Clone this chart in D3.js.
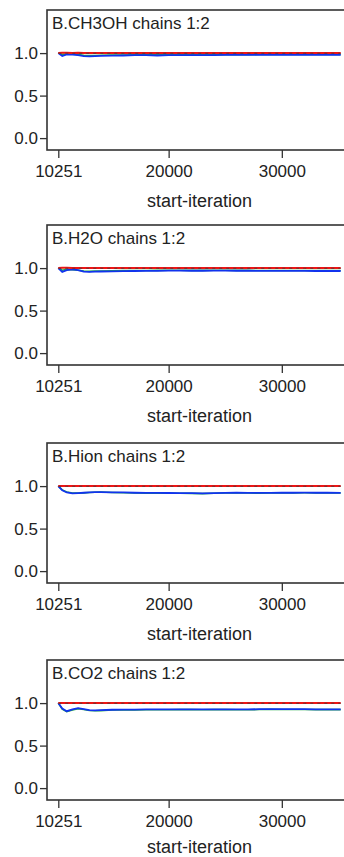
<!DOCTYPE html>
<html>
<head>
<meta charset="utf-8">
<script src="https://cdn.jsdelivr.net/npm/d3@7"></script>
<style>
  body { margin: 0; background: #fff; }
  svg { display: block; }
  text { font-family: "Liberation Sans", Arial, sans-serif; fill: #222; }
</style>
</head>
<body>
<svg id="chart" width="344" height="857"></svg>
<script>
// start iterations (shared by all panels)
var iters = [10251, 10600, 11000, 11500, 12000, 12500, 13000, 13500, 14000, 15000,
             16000, 17000, 18000, 19000, 20000, 21000, 22000, 23000, 24000, 25000,
             26000, 27000, 28000, 29000, 30000, 31000, 32000, 33000, 34000, 35200];

var titles = ["B.CH3OH chains 1:2", "B.H2O chains 1:2", "B.Hion chains 1:2", "B.CO2 chains 1:2"];
var xTicks = [10251, 20000, 30000];
var yTicks = [0.0, 0.5, 1.0];

var redCH3OH   = [1.0,1.004,1.005,1.001,1.003,1.001,1.0,1.0,1.001,1.001,1.0,1.0,1.002,1.001,1.0,1.0,1.001,1.0,1.0,1.0,1.001,1.0,1.0,1.0,1.0,1.0,1.0,1.0,1.0,1.0];
var blackCH3OH = [0.998,0.998,0.999,0.998,0.998,0.998,0.998,0.998,0.998,0.998,0.998,0.998,0.998,0.998,0.998,0.998,0.998,0.998,0.998,0.998,0.998,0.998,0.998,0.998,0.998,0.998,0.998,0.998,0.998,0.998];
var greenCH3OH = [1.0,0.985,0.988,0.99,0.982,0.975,0.97,0.972,0.975,0.978,0.978,0.98,0.98,0.979,0.98,0.98,0.98,0.981,0.981,0.982,0.982,0.982,0.983,0.983,0.983,0.983,0.984,0.984,0.984,0.984];
var blueCH3OH  = [1.0,0.965,0.985,0.983,0.975,0.965,0.962,0.965,0.968,0.97,0.972,0.975,0.975,0.972,0.975,0.975,0.975,0.976,0.977,0.978,0.978,0.978,0.979,0.979,0.979,0.98,0.98,0.98,0.98,0.98];

var redH2O   = [1.0,1.004,1.003,1.001,1.002,1.001,1.0,1.0,1.0,1.001,1.0,1.0,1.001,1.0,1.0,1.0,1.0,1.0,1.0,1.0,1.0,1.0,1.0,1.0,1.0,1.0,1.0,1.0,1.0,1.0];
var blackH2O = [0.998,0.997,0.998,0.998,0.998,0.998,0.998,0.998,0.998,0.998,0.998,0.998,0.998,0.998,0.998,0.998,0.998,0.998,0.998,0.998,0.998,0.998,0.998,0.998,0.998,0.998,0.998,0.998,0.998,0.998];
var greenH2O = [1.0,0.975,0.985,0.982,0.975,0.965,0.962,0.965,0.966,0.968,0.97,0.971,0.972,0.973,0.974,0.974,0.973,0.973,0.974,0.974,0.973,0.973,0.972,0.972,0.972,0.972,0.971,0.971,0.971,0.971];
var blueH2O  = [1.0,0.955,0.975,0.985,0.975,0.958,0.955,0.958,0.96,0.962,0.965,0.966,0.967,0.968,0.97,0.97,0.969,0.969,0.97,0.97,0.969,0.969,0.968,0.968,0.968,0.967,0.967,0.966,0.966,0.966];

var redHion   = [1.0,1.002,1.001,1.0,1.001,1.0,1.0,1.0,1.0,1.001,1.0,1.0,1.0,1.0,1.0,1.0,1.0,1.0,1.0,1.0,1.0,1.0,1.0,1.0,1.0,1.0,1.0,1.0,1.0,1.0];
var blackHion = [0.998,0.998,0.998,0.998,0.998,0.998,0.998,0.998,0.998,0.998,0.998,0.998,0.998,0.998,0.998,0.998,0.998,0.998,0.998,0.998,0.998,0.998,0.998,0.998,0.998,0.998,0.998,0.998,0.998,0.998];
var greenHion = [1.0,0.955,0.93,0.918,0.917,0.92,0.925,0.928,0.93,0.925,0.922,0.918,0.917,0.918,0.916,0.915,0.914,0.912,0.915,0.918,0.92,0.918,0.917,0.918,0.92,0.92,0.921,0.92,0.92,0.919];
var blueHion  = [1.0,0.95,0.925,0.915,0.918,0.922,0.927,0.93,0.93,0.927,0.925,0.922,0.92,0.92,0.919,0.918,0.917,0.915,0.918,0.921,0.923,0.921,0.92,0.921,0.922,0.922,0.923,0.922,0.922,0.921];

var redCO2   = [1.0,1.002,1.001,1.0,1.002,1.001,1.0,1.0,1.001,1.0,1.0,1.0,1.0,1.0,1.0,1.0,1.0,1.0,1.0,1.0,1.0,1.0,1.0,1.0,1.0,1.0,1.0,1.0,1.0,1.0];
var blackCO2 = [0.998,0.998,0.998,0.998,0.998,0.998,0.998,0.998,0.998,0.998,0.998,0.998,0.998,0.998,0.998,0.998,0.998,0.998,0.998,0.998,0.998,0.998,0.998,0.998,0.998,0.998,0.998,0.998,0.998,0.998];
var greenCO2 = [1.0,0.93,0.9,0.918,0.935,0.925,0.912,0.91,0.912,0.918,0.92,0.92,0.921,0.922,0.922,0.923,0.923,0.922,0.923,0.923,0.922,0.922,0.924,0.926,0.925,0.924,0.924,0.923,0.923,0.923];
var blueCO2  = [1.0,0.935,0.905,0.925,0.94,0.93,0.917,0.915,0.917,0.922,0.924,0.924,0.925,0.926,0.926,0.927,0.927,0.926,0.927,0.927,0.926,0.926,0.928,0.93,0.929,0.928,0.928,0.927,0.927,0.927];

var panelTops = [10, 225, 443, 660];

var panels = [
    {red: redCH3OH, black: blackCH3OH, green: greenCH3OH, blue: blueCH3OH},
    {red: redH2O, black: blackH2O, green: greenH2O, blue: blueH2O},
    {red: redHion, black: blackHion, green: greenHion, blue: blueHion},
    {red: redCO2, black: blackCO2, green: greenCO2, blue: blueCO2}
];

var svg = d3.select("#chart");
var left = 47, right = 352, boxH = 140;

var xScale = d3.scaleLinear()
    .domain([9253, 36200])
    .range([left, right]);

panels.forEach(function(p, i)
{
    var top = panelTops[i];
    var yScale = d3.scaleLinear()
        .domain([-0.14, 1.507])
        .range([top + boxH, top]);

    var g = svg.append("g");

    var line = d3.line()
        .x(function(d, k) { return xScale(iters[k]); })
        .y(function(d) { return yScale(d); });

    var series = [
        {vals: p.green, color: "#22aa44", width: 1.6, dash: null},
        {vals: p.blue, color: "#1133ee", width: 1.8, dash: null},
        {vals: p.red, color: "#ee1515", width: 2, dash: null},
        {vals: p.black, color: "#663333", width: 1, dash: "3,4"}
    ];
    series.forEach(function(s)
    {
        g.append("path")
            .datum(s.vals)
            .attr("d", line)
            .attr("fill", "none")
            .attr("stroke", s.color)
            .attr("stroke-width", s.width)
            .attr("stroke-dasharray", s.dash);
    });

    g.append("rect")
        .attr("x", left)
        .attr("y", top)
        .attr("width", right - left)
        .attr("height", boxH)
        .attr("fill", "none")
        .attr("stroke", "#333")
        .attr("stroke-width", 1.6);

    var xAxis = g.append("g")
        .attr("transform", "translate(0," + (top + boxH) + ")")
        .call(d3.axisBottom(xScale).tickValues(xTicks).tickFormat(d3.format("d")).tickSize(8).tickPadding(7));
    xAxis.select(".domain").remove();
    xAxis.selectAll("line").attr("stroke", "#333").attr("stroke-width", 1.3);
    xAxis.selectAll("text").attr("font-size", 17).attr("fill", "#222")
        .attr("font-family", "Liberation Sans, Arial, sans-serif");

    var yAxis = g.append("g")
        .attr("transform", "translate(" + left + ",0)")
        .call(d3.axisLeft(yScale).tickValues(yTicks).tickFormat(d3.format(".1f")).tickSize(7).tickPadding(2));
    yAxis.select(".domain").remove();
    yAxis.selectAll("line").attr("stroke", "#333").attr("stroke-width", 1.3);
    yAxis.selectAll("text").attr("font-size", 17).attr("fill", "#222")
        .attr("font-family", "Liberation Sans, Arial, sans-serif");

    g.append("text")
        .attr("x", 52)
        .attr("y", top + 19)
        .attr("font-size", 17)
        .text(titles[i]);

    g.append("text")
        .attr("x", (left + right) / 2)
        .attr("y", top + boxH + (i == 3 ? 53 : 57))
        .attr("text-anchor", "middle")
        .attr("font-size", 18)
        .text("start-iteration");
});
</script>
</body>
</html>
